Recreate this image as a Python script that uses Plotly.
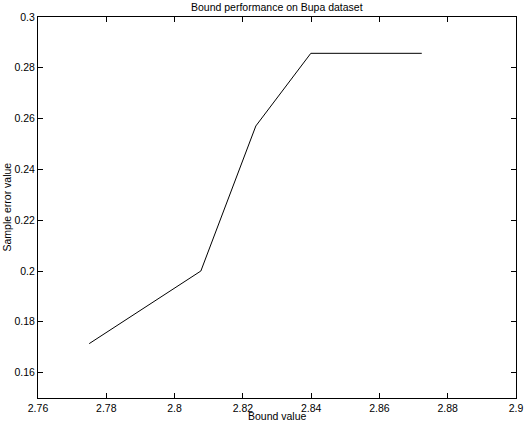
import plotly.graph_objects as go

# Bound value vs sample error (Bupa dataset)
boundValue = [2.775, 2.8077, 2.8238, 2.8399, 2.8724]
sampleError = [0.1714, 0.2, 0.2571, 0.2857, 0.2857]

xTicks = [2.76, 2.78, 2.80, 2.82, 2.84, 2.86, 2.88, 2.90]
xTickText = ["2.76", "2.78", "2.8", "2.82", "2.84", "2.86", "2.88", "2.9"]
yTicks = [0.16, 0.18, 0.20, 0.22, 0.24, 0.26, 0.28, 0.30]
yTickText = ["0.16", "0.18", "0.2", "0.22", "0.24", "0.26", "0.28", "0.3"]

font = dict(family="Liberation Sans, Arial, sans-serif", size=10.5, color="black")

fig = go.Figure()
fig.add_trace(go.Scatter(
    x=boundValue,
    y=sampleError,
    mode='lines',
    line=dict(color='black', width=1),
    showlegend=False
))

axis = dict(
    showgrid=False,
    zeroline=False,
    showline=True,
    linecolor='black',
    linewidth=1,
    mirror='allticks',
    ticks='inside',
    ticklen=5,
    tickcolor='black',
    tickfont=font,
    automargin=False,
)

fig.update_layout(
    width=526,
    height=422,
    margin=dict(l=38, r=10, t=17, b=24),
    paper_bgcolor='white',
    plot_bgcolor='white',
    font=font,
    xaxis=dict(axis, range=[2.76, 2.9], tickvals=xTicks, ticktext=xTickText),
    yaxis=dict(axis, range=[0.15, 0.3], tickvals=yTicks, ticktext=yTickText),
    annotations=[
        dict(text="Bound performance on Bupa dataset", xref='paper', yref='paper',
             x=0.5, y=1, yshift=10, showarrow=False, font=font, yanchor='middle'),
        dict(text="Bound value", xref='paper', yref='paper',
             x=0.5, y=0, yshift=-18, showarrow=False, font=font, yanchor='middle'),
        dict(text="Sample error value", xref='paper', yref='paper',
             x=0, y=0.5, xshift=-32, showarrow=False, font=font, textangle=-90,
             xanchor='center'),
    ],
)

# Remove the default page margin so the figure sits at the window's corner
fig.write_html("out.html", config={'displayModeBar': False},
               post_script="document.body.style.margin='0';")
